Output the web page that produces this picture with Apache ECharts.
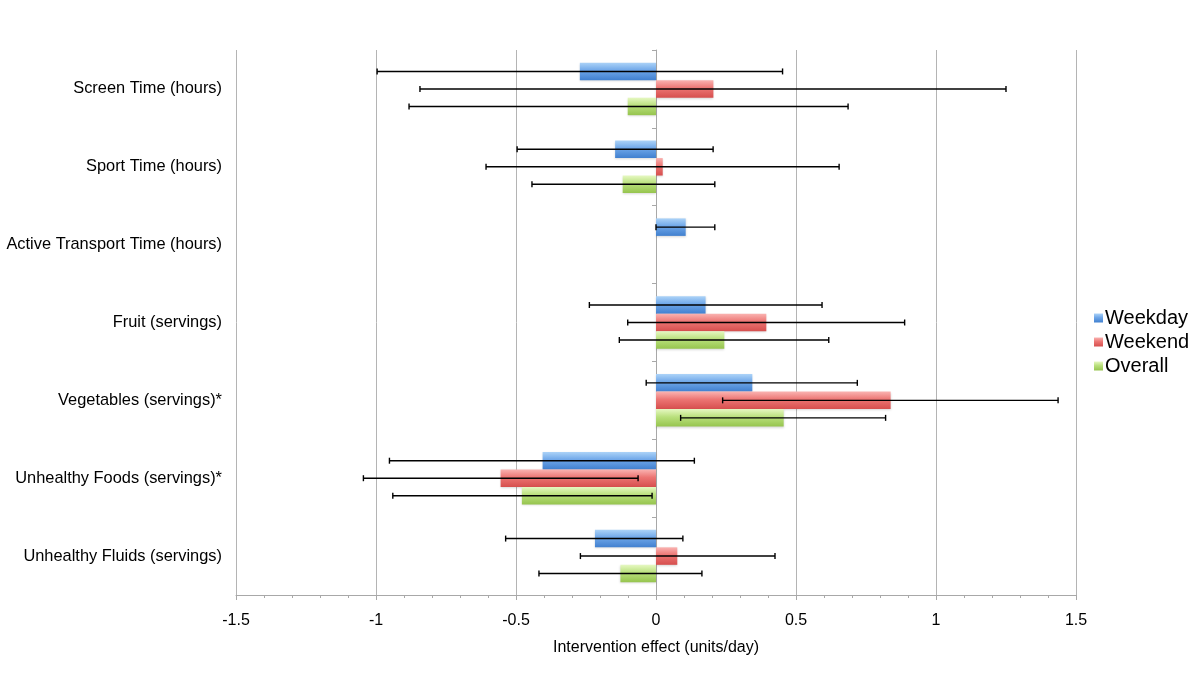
<!DOCTYPE html>
<html>
<head>
<meta charset="utf-8">
<script src="https://cdn.jsdelivr.net/npm/echarts@6/dist/echarts.min.js"></script>
<style>html,body{margin:0;padding:0;background:#fff;}#c{width:1200px;height:679px;}</style>
</head>
<body>
<div id="c"></div>
<script>
const categories = ['Screen Time (hours)', 'Sport Time (hours)', 'Active Transport Time (hours)', 'Fruit (servings)', 'Vegetables (servings)*', 'Unhealthy Foods (servings)*', 'Unhealthy Fluids (servings)'];
const seriesNames = ['Weekday', 'Weekend', 'Overall'];
const weekday = [-0.272, -0.146, 0.106, 0.177, 0.344, -0.405, -0.218];
const weekend = [0.205, 0.024, null, 0.394, 0.838, -0.555, 0.076];
const overall = [-0.101, -0.119, null, 0.244, 0.456, -0.479, -0.127];
const weekdayLow = [-0.996, -0.496, 0.0, -0.238, -0.035, -0.952, -0.537];
const weekdayHigh = [0.452, 0.204, 0.21, 0.593, 0.719, 0.137, 0.096];
const weekendLow = [-0.843, -0.607, null, -0.101, 0.238, -1.045, -0.270];
const weekendHigh = [1.25, 0.654, null, 0.888, 1.436, -0.064, 0.425];
const overallLow = [-0.882, -0.443, null, -0.131, 0.088, -0.94, -0.418];
const overallHigh = [0.686, 0.21, null, 0.617, 0.82, -0.014, 0.164];
const xTicks = [-1.5, -1, -0.5, 0, 0.5, 1, 1.5];

const values = [weekday, weekend, overall];
const lows = [weekdayLow, weekendLow, overallLow];
const highs = [weekdayHigh, weekendHigh, overallHigh];
const colors = [
  ['#acd3f8', '#6ea6e8', '#4180cf'],
  ['#fab3b1', '#ec7573', '#d64f4e'],
  ['#e6f8c2', '#b9e07c', '#96c44e']
];
const BAR_H = 17.5;

function grad(c) {
  return new echarts.graphic.LinearGradient(0, 0, 0, 1, [
    {offset: 0, color: c[0]}, {offset: 0.45, color: c[1]}, {offset: 1, color: c[2]}
  ]);
}

const font = '"Liberation Sans", Arial, Helvetica, sans-serif';
const chart = echarts.init(document.getElementById('c'));

const series = [];
values.forEach((vals, i) => {
  series.push({
    name: seriesNames[i],
    type: 'bar',
    data: vals,
    barWidth: BAR_H,
    barGap: '0%',
    itemStyle: {color: grad(colors[i]), shadowColor: 'rgba(0,0,0,0.15)', shadowBlur: 2, shadowOffsetY: 1},
    emphasis: {disabled: true},
    z: 2
  });
});
values.forEach((vals, i) => {
  const data = categories.map((c, k) => [k, lows[i][k], highs[i][k]]).filter(d => d[1] !== null);
  series.push({
    type: 'custom',
    name: seriesNames[i] + ' err',
    data: data,
    z: 5,
    silent: true,
    encode: {x: [1, 2], y: 0},
    renderItem: function (params, api) {
      const k = api.value(0);
      const lo = api.coord([api.value(1), k]);
      const hi = api.coord([api.value(2), k]);
      const y = lo[1] + (i - 1) * BAR_H;
      const cap = 3;
      const st = {stroke: '#000', lineWidth: 1.4};
      return {
        type: 'group',
        children: [
          {type: 'line', shape: {x1: lo[0], y1: y, x2: hi[0], y2: y}, style: st},
          {type: 'line', shape: {x1: lo[0], y1: y - cap, x2: lo[0], y2: y + cap}, style: st},
          {type: 'line', shape: {x1: hi[0], y1: y - cap, x2: hi[0], y2: y + cap}, style: st}
        ]
      };
    }
  });
});

chart.setOption({
  animation: false,
  backgroundColor: '#fff',
  textStyle: {fontFamily: font},
  legend: {
    data: seriesNames,
    orient: 'vertical',
    left: 1089,
    top: 303,
    icon: 'rect',
    itemWidth: 9,
    itemHeight: 9,
    itemGap: 4,
    textStyle: {fontSize: 20, color: '#000', fontFamily: font, padding: [0, 0, 0, -3]},
    selectedMode: false
  },
  grid: {left: 236, right: 124, top: 50, bottom: 84, containLabel: false},
  xAxis: {
    type: 'value',
    min: -1.5,
    max: 1.5,
    interval: 0.5,
    name: 'Intervention effect (units/day)',
    nameLocation: 'middle',
    nameGap: 45,
    nameTextStyle: {fontSize: 16, color: '#000', fontFamily: font},
    axisLine: {show: true, onZero: false, lineStyle: {color: '#a8a8a8', width: 1}},
    axisTick: {show: true, length: 5, lineStyle: {color: '#a8a8a8'}},
    minorTick: {show: true, splitNumber: 5, length: 3, lineStyle: {color: '#a8a8a8'}},
    axisLabel: {fontSize: 16, color: '#000', margin: 18, fontFamily: font,
      formatter: v => xTicks.indexOf(v) >= 0 ? String(v) : ''},
    splitLine: {show: true, lineStyle: {color: '#b4b4b4', width: 1}}
  },
  yAxis: [
    {
      type: 'category',
      data: categories,
      inverse: true,
      position: 'left',
      axisLine: {show: false},
      axisTick: {show: false},
      axisLabel: {fontSize: 16.4, color: '#000', margin: 14, fontFamily: font, padding: [4, 0, 0, 0]},
      splitLine: {show: false}
    },
    {
      type: 'category',
      data: categories,
      inverse: true,
      position: 'right',
      offset: -420,
      axisLine: {show: true, onZero: false, lineStyle: {color: '#a8a8a8'}},
      axisTick: {show: true, inside: true, length: 4, lineStyle: {color: '#a8a8a8'}},
      axisLabel: {show: false},
      splitLine: {show: false}
    }
  ],
  series: series
});
</script>
</body>
</html>
